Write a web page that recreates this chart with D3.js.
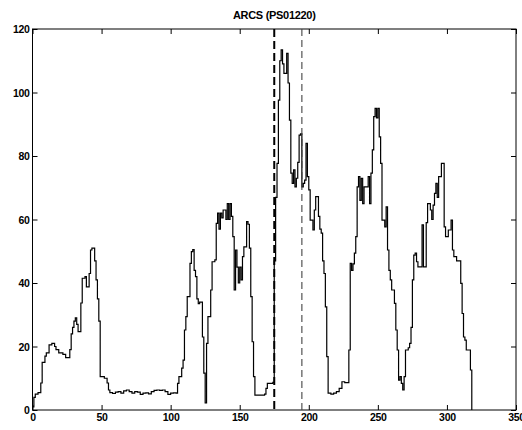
<!DOCTYPE html>
<html><head><meta charset="utf-8">
<script src="https://cdn.jsdelivr.net/npm/d3@7"></script>
<style>body{margin:0;background:#fff}svg{display:block}text{font-family:"Liberation Sans",Arial,sans-serif;}</style>
</head><body>
<svg id="c" width="522" height="430"></svg>
<script>
const title = "ARCS (PS01220)";
const xTicks = [0,50,100,150,200,250,300,350];
const yTicks = [0,20,40,60,80,100,120];
const markers = [175,195];
const xs = [0,1,2,4,6,7,9,10,12,14,16,17,19,21,22,24,26,27,28,29,30,31,32,33,35,36,38,39,41,42,43,45,46,47,48,49,52,54,55,
56,58,60,62,64,66,68,70,72,74,76,78,80,82,84,86,88,90,92,94,96,98,100,102,104,105,106,108,109,110,111,112,114,115,116,117,118,119,120,121,123,124,125,126,127,129,130,132,133,134,135,136,137,138,140,141,142,143,144,145,146,147,148,149,150,151,152,153,155,156,157,158,159,160,161,168,169,170,174,
175,176,177,178,179,180,181,182,184,185,186,187,188,189,190,191,192,193,194,195,196,197,198,199,200,201,203,204,205,207,208,209,210,211,212,213,214,216,218,220,222,224,226,229,230,231,232,233,234,235,236,237,238,239,240,242,243,244,245,246,247,248,249,250,251,252,253,255,256,257,258,259,260,262,263,264,265,266,267,268,269,270,272,273,274,275,276,277,278,279,282,283,285,286,288,289,290,291,292,293,294,296,298,299,301,303,304,305,307,310,311,312,313,314,317,318];
const ys = [1,4,5,5.5,8.5,15,17,18,20.5,21,20,19,18,18,17.5,16.5,16.5,19,24,26,28,29,27,24.7,33.7,41.5,42,38.8,43,50.4,51,47,41,35,28,10.5,10,8.5,6.3,
5.5,5.2,5.6,5.8,5.3,6.0,6.3,5.8,5.3,5.8,5.6,4.9,5.3,5.4,5.1,5.8,6.2,6.3,6.2,6.3,5.8,4.9,5.3,5.4,5.3,8.4,10.5,13.2,15.7,25.2,29.4,35.7,46.2,49.9,50.5,44,42,35,33.5,34,23,11.6,2.2,21,29.4,37.8,46.7,47.3,58.8,62,57,62,60.5,63,60,65,60,65,61,54.6,37.8,50.4,45,40,45,41,48.3,51.4,59.3,58.5,51,35.7,21.5,10.5,4.7,5,6.8,8.4,8.7,
47,67,77.7,97.6,110,113.4,109,106,112.3,103,91.3,74.6,71.4,75.6,70.3,73,78,86.6,87,70.3,71.4,72.4,84,73.5,69.3,59.8,56.7,63,67.2,61,57,55.7,47,43,32.5,16.8,5.3,5,5.3,5.8,6.8,8.9,8.6,18.9,46.2,44,46,49.4,54.6,70.3,73.5,66,73,65,70.3,70.3,73.5,65,74.6,81.9,92.4,95,92,95,86,77.7,59.8,57.7,64,50.4,44,41,37.8,33.6,25.2,18.9,9.4,10.5,8.4,6.3,10.5,18.9,19.6,21,26,41,48.8,49.4,46.7,45.1,58.3,45.1,59,65,63,60,64.5,68.2,71.4,67,73.5,77.7,57.7,54.6,56.7,59.8,50.4,48.3,47,39.9,30.4,23,22,18.9,12.6,0];

const svg = d3.select("#c");
const L=32.5, R=516, T=29, B=410;
const x = d3.scaleLinear().domain([0,350]).range([L,R]);
const y = d3.scaleLinear().domain([0,120]).range([B,T]);
const data = xs.map((v,i)=>[v,ys[i]]);

const font = "10.5px";
// frame
svg.append("rect").attr("x",L).attr("y",T).attr("width",R-L).attr("height",B-T)
  .attr("fill","none").attr("stroke","#000").attr("stroke-width",1);

const gx = svg.append("g").attr("transform",`translate(0,${B})`)
  .call(d3.axisBottom(x).tickValues(xTicks).tickSize(-5).tickPadding(4).tickFormat(d3.format("d")));
const gxt = svg.append("g").attr("transform",`translate(0,${T})`)
  .call(d3.axisTop(x).tickValues(xTicks).tickSize(-5).tickFormat(""));
const gy = svg.append("g").attr("transform",`translate(${L},0)`)
  .call(d3.axisLeft(y).tickValues(yTicks).tickSize(-5).tickPadding(3).tickFormat(d3.format("d")));
const gyr = svg.append("g").attr("transform",`translate(${R},0)`)
  .call(d3.axisRight(y).tickValues(yTicks).tickSize(-5).tickFormat(""));
[gx,gxt,gy,gyr].forEach(g=>{
  g.select(".domain").remove();
  g.selectAll("line").attr("stroke","#000");
  g.selectAll("text").attr("font-size",font).attr("font-weight","bold").attr("fill","#000")
   .attr("letter-spacing","-0.3px").style("font-family","'Liberation Sans',Arial,sans-serif");
});
gy.selectAll("text").attr("dy","0.35em");

// data line
svg.append("path").datum(data)
  .attr("fill","none").attr("stroke","#000").attr("stroke-width",1.2)
  .attr("d", d3.line().x(d=>x(d[0])).y(d=>y(d[1])).curve(d3.curveStepAfter));

// markers
svg.append("line").attr("x1",x(markers[0])).attr("x2",x(markers[0])).attr("y1",T).attr("y2",B)
  .attr("stroke","#000").attr("stroke-width",2).attr("stroke-dasharray","8,4");
svg.append("line").attr("x1",x(markers[1])).attr("x2",x(markers[1])).attr("y1",T).attr("y2",B)
  .attr("stroke","#444").attr("stroke-width",1.1).attr("stroke-dasharray","7,4");

svg.append("text").attr("x",(L+R)/2).attr("y",19).attr("text-anchor","middle")
  .attr("font-size","11px").attr("font-weight","bold").attr("letter-spacing","-0.3px")
  .attr("fill","#000").text(title);
</script>
</body></html>
